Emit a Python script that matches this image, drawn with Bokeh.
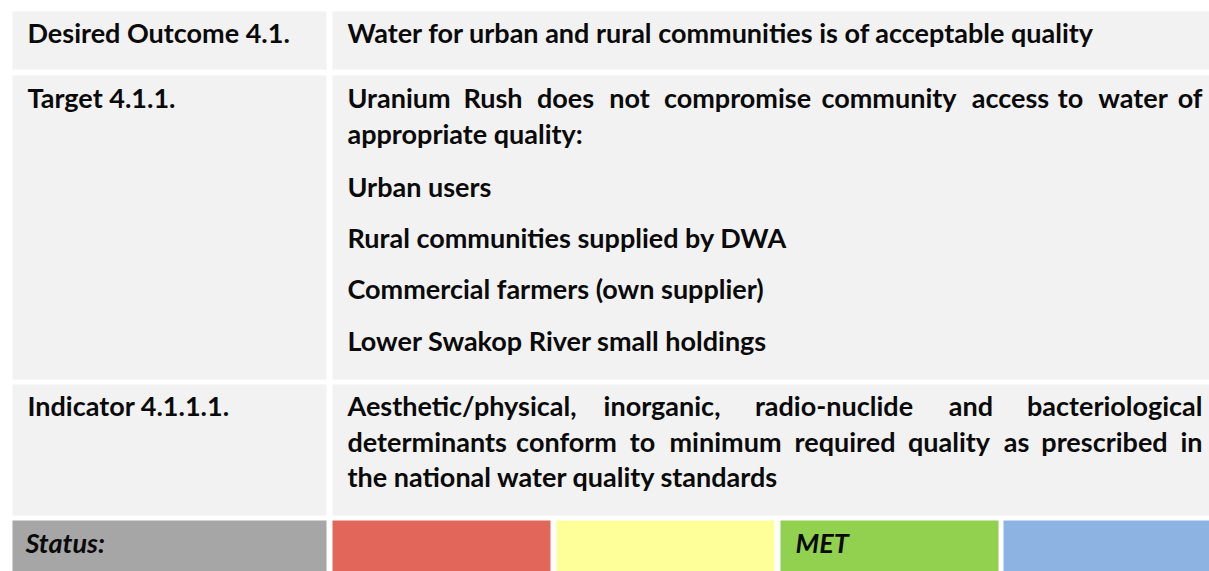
from bokeh.plotting import figure
from bokeh.models import Range1d
from bokeh.core.properties import value
from bokeh.embed import file_html
from bokeh.resources import INLINE

# ---------------- content ----------------
row_labels = ["Desired Outcome 4.1.", "Target 4.1.1.", "Indicator 4.1.1.1."]
outcome_text = "Water for urban and rural communities is of  acceptable quality"
target_line1 = ["Uranium", "Rush", "does", "not", "compromise",
                "community", "access", "to", "water", "of"]
target_line2 = "appropriate quality:"
target_users = ["Urban users", "Rural communities supplied by DWA",
                "Commercial farmers (own supplier)", "Lower Swakop River small holdings"]
indicator_line1 = ["Aesthetic/physical,", "inorganic,", "radio-nuclide", "and", "bacteriological"]
indicator_line2 = ["determinants", "conform", "to", "minimum", "required",
                   "quality", "as", "prescribed", "in"]
indicator_line3 = "the national water quality standards"
status_label = "Status:"
status_levels = ["", "", "MET", ""]
status_colors = ["#e2665a", "#ffff99", "#92d050", "#8db3e2"]

# ---------------- layout (page pixels) ----------------
COL_L = (12, 326)
COL_R = (332, 1216)
ROWS = [(11, 69), (75, 379), (384, 515)]
STATUS_ROW = (520, 576)
STATUS_X = [(332, 550), (556, 774), (780, 998), (1003, 1216)]
X_LABEL = 27
X_TEXT = 347
X_RIGHT = 1202
CELL_BG = "#f2f2f2"
STATUS_BG = "#a6a6a6"

# anchors for justified lines (first word left, last word right, others centred)
t1_x = [X_TEXT, 492.5, 565, 629, 737, 888.5, 1010, 1070, 1132.5, X_RIGHT]
i1_x = [X_TEXT, 661.5, 833.5, 970.5, X_RIGHT]
i2_x = [X_TEXT, 566, 642, 725, 844.5, 948.5, 1016, 1104, X_RIGHT]

SHIFT = -10  # renderer places the alphabetic baseline a bit low
BL_ROW1 = 42 + SHIFT
BL_TARGET = [107 + SHIFT, 142.5 + SHIFT]
BL_USERS = [b + SHIFT for b in (196, 247, 298, 350)]
BL_IND = [b + SHIFT for b in (415, 451, 486)]
BL_STATUS = 552 + SHIFT

W, H = 1209, 571
p = figure(width=W, height=H, output_backend="svg", toolbar_location=None,
           x_range=Range1d(0, W), y_range=Range1d(H, 0),
           min_border=0, outline_line_color=None, background_fill_color="white",
           border_fill_color="white")
p.axis.visible = False
p.xgrid.visible = False
p.ygrid.visible = False

# ---------------- cells ----------------
lefts, rights, tops, bottoms, colors = [], [], [], [], []
for (t, b) in ROWS:
    for (l, r) in (COL_L, COL_R):
        lefts.append(l); rights.append(r); tops.append(t); bottoms.append(b); colors.append(CELL_BG)
lefts.append(COL_L[0]); rights.append(COL_L[1]); tops.append(STATUS_ROW[0]); bottoms.append(STATUS_ROW[1]); colors.append(STATUS_BG)
for (l, r), c in zip(STATUS_X, status_colors):
    lefts.append(l); rights.append(r); tops.append(STATUS_ROW[0]); bottoms.append(STATUS_ROW[1]); colors.append(c)

p.quad(left=lefts, right=rights, top=tops, bottom=bottoms, fill_color=colors, line_color=None)

FONT = value("Lato")
common = dict(text_font=FONT, text_font_size="27px", text_color="#0a0a0a",
              text_baseline="alphabetic")

left_x, left_y, left_t = [], [], []
center_x, center_y, center_t = [], [], []
right_x, right_y, right_t = [], [], []

def add_left(x, y, t):
    left_x.append(x); left_y.append(y); left_t.append(t)

# left column labels
for lab, y in zip(row_labels, [BL_ROW1, BL_TARGET[0], BL_IND[0]]):
    add_left(X_LABEL, y, lab)

# row 1
add_left(X_TEXT, BL_ROW1, outcome_text)

# justified lines
def justify(words, xs, y):
    for i, (w, x) in enumerate(zip(words, xs)):
        if i == 0:
            add_left(x, y, w)
        elif i == len(words) - 1:
            right_x.append(x); right_y.append(y); right_t.append(w)
        else:
            center_x.append(x); center_y.append(y); center_t.append(w)

justify(target_line1, t1_x, BL_TARGET[0])
add_left(X_TEXT, BL_TARGET[1], target_line2)
for u, y in zip(target_users, BL_USERS):
    add_left(X_TEXT, y, u)

justify(indicator_line1, i1_x, BL_IND[0])
justify(indicator_line2, i2_x, BL_IND[1])
add_left(X_TEXT, BL_IND[2], indicator_line3)

p.text(x=left_x, y=left_y, text=left_t, text_align="left", text_font_style="bold", **common)
p.text(x=center_x, y=center_y, text=center_t, text_align="center", text_font_style="bold", **common)
p.text(x=right_x, y=right_y, text=right_t, text_align="right", text_font_style="bold", **common)

# status row
st_x = [X_LABEL - 2] + [l + 15 for (l, r) in STATUS_X]
st_t = [status_label] + status_levels
p.text(x=st_x, y=[BL_STATUS] * len(st_x), text=st_t, text_align="left",
       text_font_style="bold italic", **common)

html = file_html(p, INLINE)
html = html.replace("<head>", "<head><style>html,body{margin:0;padding:0;overflow:hidden;}</style>", 1)
open("out.html", "w").write(html)
